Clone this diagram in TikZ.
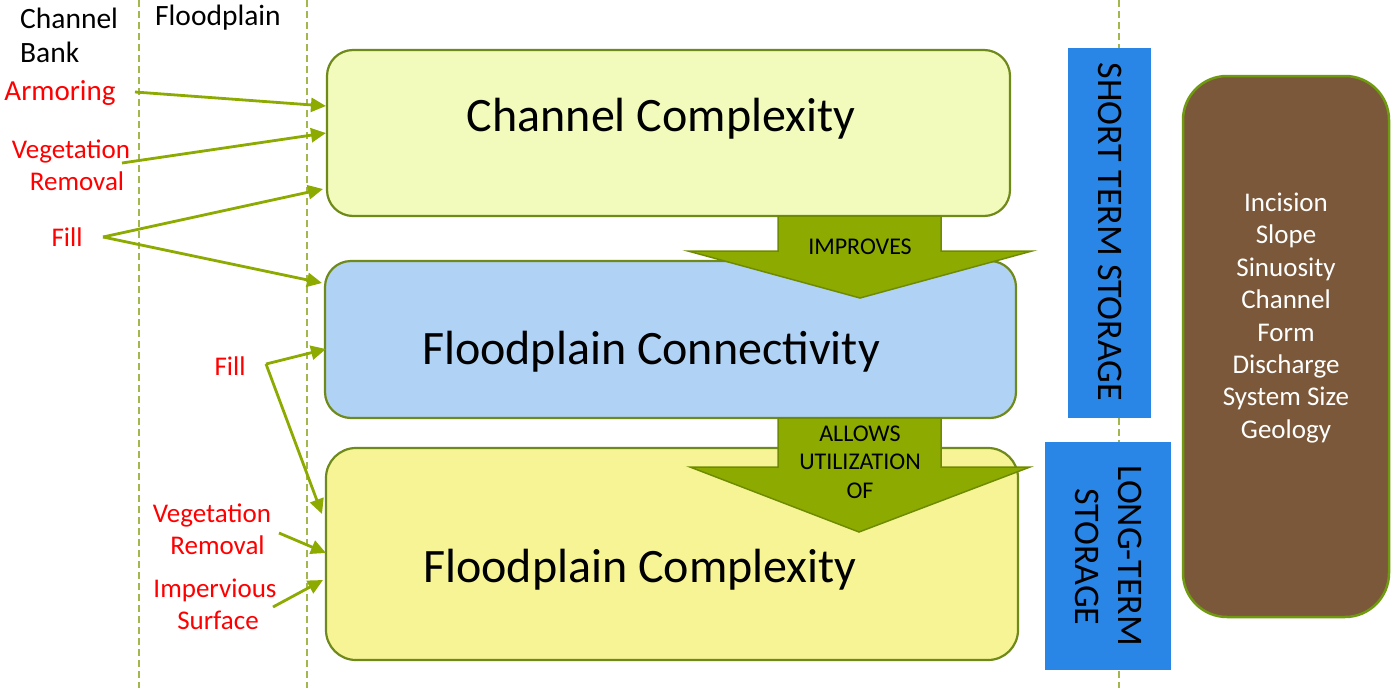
\documentclass[tikz,border=0pt]{standalone}
\usepackage{fontspec}
\setmainfont{Carlito}
\usetikzlibrary{arrows.meta}
\definecolor{dashc}{HTML}{A3B84C}
\definecolor{olivec}{HTML}{6F8A1A}
\definecolor{arrc}{HTML}{8DAA00}
\definecolor{bigarrd}{HTML}{6E8B00}
\definecolor{ccfill}{HTML}{F2FBBC}
\definecolor{fcfill}{HTML}{B0D2F5}
\definecolor{fxfill}{HTML}{F6F495}
\definecolor{bluec}{HTML}{2A86E6}
\definecolor{brownc}{HTML}{7A5839}
\definecolor{browne}{HTML}{6F9A10}
\definecolor{redc}{HTML}{FF0000}
\newcommand\myfs[2]{\fontsize{#1}{#2}\selectfont}
\begin{document}
\begin{tikzpicture}[x=1pt,y=-1pt,
  dashline/.style={draw=dashc,line width=1.3pt,dash pattern=on 7pt off 4pt},
  mainbox/.style={draw=olivec,line width=2.2pt,inner sep=0pt},
  bigarrow/.style={fill=arrc,draw=bigarrd,line width=1.5pt},
  conn/.style={draw=arrc,line width=2.8pt,-{Triangle[length=15pt,width=14pt]}},
  redlab/.style={text=redc,align=center,inner sep=0pt,font=\myfs{27}{32}},
  blklab/.style={text=black,align=left,inner sep=0pt,font=\myfs{29.5}{34}},
  bigtxt/.style={inner sep=0pt,font=\myfs{48}{52},anchor=base},
  arrtxt/.style={inner sep=0pt,align=center,font=\myfs{24}{28.5}},
  vtxt/.style={inner sep=0pt,font=\myfs{36}{42},rotate=-90,anchor=base},
  bluebox/.style={fill=bluec,inner sep=0pt}
]
\useasboundingbox (0,0) rectangle (1394,688);
\fill[white] (0,0) rectangle (1394,688);
% dashed guide lines
\coordinate (d1t) at (139,0); \coordinate (d1b) at (139,688);
\coordinate (d2t) at (307,0); \coordinate (d2b) at (307,688);
\coordinate (d3t) at (1119,0); \coordinate (d3b) at (1119,688);
\draw[dashline] (d1t) -- (d1b);
\draw[dashline] (d2t) -- (d2b);
\draw[dashline] (d3t) -- (d3b);
% main boxes
\node[mainbox,fill=ccfill,rounded corners=26pt,minimum width=683pt,minimum height=166pt] (cc) at (668.5,133) {};
\node[mainbox,fill=fcfill,rounded corners=26pt,minimum width=691pt,minimum height=157pt] (fc) at (670.5,339.5) {};
\node[mainbox,fill=fxfill,rounded corners=30pt,minimum width=692pt,minimum height=212pt] (fx) at (672,554) {};
% big arrows
\draw[bigarrow] (778,216) -- (941,216) -- (941,251) -- (1032,251) -- (860,298) -- (688,251) -- (778,251) -- cycle;
\draw[bigarrow] (778,418) -- (941,418) -- (941,467) -- (1030,467) -- (859,532) -- (690,467) -- (778,467) -- cycle;
\node[arrtxt,anchor=base] (imp) at (860,254) {IMPROVES};
\node[arrtxt] (allow) at (860,462) {ALLOWS\\UTILIZATION\\OF};
% big texts
\node[bigtxt] (cct) at (661,131) {Channel Complexity};
\node[bigtxt] (fct) at (651,364) {Floodplain Connectivity};
\node[bigtxt] (fxt) at (640,582) {Floodplain Complexity};
% storage boxes
\node[bluebox,minimum width=83pt,minimum height=370pt] (stb) at (1109.5,233) {};
\node[vtxt] (stt) at (1098,232) {SHORT TERM STORAGE};
\node[bluebox,minimum width=126pt,minimum height=228pt] (ltb) at (1108,556) {};
\node[vtxt] (ltt1) at (1118,556) {LONG-TERM};
\node[vtxt] (ltt2) at (1075,557) {STORAGE};
% brown box
\node[draw=browne,fill=brownc,line width=2.5pt,rounded corners=44pt,minimum width=206pt,minimum height=541pt,inner sep=0pt] (brown) at (1286,346.5) {};
\node[text=white,align=center,inner sep=0pt,font=\myfs{27}{32.4}] (browntxt) at (1286,318) {Incision\\Slope\\Sinuosity\\Channel\\Form\\Discharge\\System Size\\Geology};
% left labels
\node[blklab,anchor=west] (bank) at (20,35) {Channel\\Bank};
\node[blklab] (flood) at (218,18) {Floodplain};
\node[redlab,font=\myfs{29}{32}] (arm) at (60,93) {Armoring};
\node[redlab] (veg1) at (71,165) {Vegetation\\\hspace*{12pt}Removal};
\node[redlab] (fill1) at (67,237) {Fill};
\node[redlab] (fill2) at (230,366) {Fill};
\node[redlab] (veg2) at (212,529) {Vegetation\\\hspace*{11pt}Removal};
\node[redlab] (imperv) at (215,604) {Impervious\\\hspace*{6pt}Surface};
% connector end points
\coordinate (armS) at (135,92);   \coordinate (armE) at (326,106);
\coordinate (vegS) at (122,163);  \coordinate (vegE) at (326,133);
\coordinate (f1S) at (103,237);   \coordinate (f1E1) at (323,189); \coordinate (f1E2) at (322,283);
\coordinate (f2S) at (266,364);   \coordinate (f2E1) at (326,349); \coordinate (f2E2) at (322,514);
\coordinate (v2S) at (279,533);   \coordinate (v2E) at (326,553);
\coordinate (imS) at (273,607);   \coordinate (imE) at (323,580);
\draw[conn] (armS) -- (armE);
\draw[conn] (vegS) -- (vegE);
\draw[conn] (f1S) -- (f1E1);
\draw[conn] (f1S) -- (f1E2);
\draw[conn] (f2S) -- (f2E1);
\draw[conn] (f2S) -- (f2E2);
\draw[conn] (v2S) -- (v2E);
\draw[conn] (imS) -- (imE);
\end{tikzpicture}
\end{document}
